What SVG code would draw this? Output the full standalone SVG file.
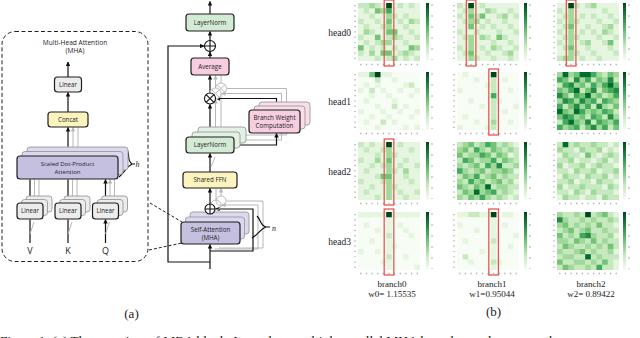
<svg xmlns="http://www.w3.org/2000/svg" width="640" height="338" viewBox="0 0 640 338">
<style>
.bx{stroke:#1e1e1e;stroke-width:1.2}
.sh{stroke:#9a9a9a;stroke-width:.9}
.ln{fill:none;stroke:#111;stroke-width:1.2}
.gl{fill:none;stroke:#b8b8b8;stroke-width:1}
.t{font-family:"Open Sans","Liberation Sans",sans-serif;font-size:6.2px;text-anchor:middle;fill:#222}
.s{font-family:"Liberation Serif",serif;fill:#222}
.gr{fill:#ececec}.yl{fill:#fbf4bf}.pu{fill:#c5bfe0}.pu2{fill:#dcd8ef}.gn{fill:#d3ead5}.gn2{fill:#e3f1e4}.pk{fill:#f7cde0}.pk2{fill:#f9dde9}
.l1{fill:#f7fcf5}.l2{fill:#e5f5e0}.l3{fill:#c7e9c0}.l4{fill:#a1d99b}.l5{fill:#74c476}.l6{fill:#41ab5d}.l7{fill:#238b45}.l8{fill:#006d2c}.l9{fill:#00441b}
.cb{fill:url(#cbg)}
.tv{stroke:#a8a8a8;stroke-width:1.3;stroke-dasharray:1.2 4.07}
.th{stroke:#a8a8a8;stroke-width:1.3;stroke-dasharray:1.2 4.44}
.tc{stroke:#b8b8b8;stroke-width:1.2;stroke-dasharray:2 9}
.hl{fill:none;stroke:#e9574e;stroke-width:1.3}
</style>
<defs>
<marker id="a" viewBox="0 0 10 10" refX="9" refY="5" markerWidth="4.5" markerHeight="4.5" markerUnits="userSpaceOnUse" orient="auto"><path d="M0 0L10 5L0 10z" fill="#111"/></marker>
<marker id="ag" viewBox="0 0 10 10" refX="9" refY="5" markerWidth="4.5" markerHeight="4.5" markerUnits="userSpaceOnUse" orient="auto"><path d="M0 0L10 5L0 10z" fill="#b8b8b8"/></marker>
<linearGradient id="cbg" x1="0" y1="0" x2="0" y2="1"><stop offset="0" stop-color="#00441b"/><stop offset=".25" stop-color="#238b45"/><stop offset=".5" stop-color="#74c476"/><stop offset=".75" stop-color="#c7e9c0"/><stop offset="1" stop-color="#f7fcf5"/></linearGradient>
</defs>
<rect width="640" height="338" fill="#fff"/>

<!-- Left panel: MHA -->
<g id="mha-panel">
<rect x="2" y="31.5" width="146" height="230" rx="13" fill="none" stroke="#222" stroke-width="1" stroke-dasharray="4 2.5"/>
<text class="t" x="75" y="44.5" style="font-size:6.6px">Multi-Head Attention</text>
<text class="t" x="75" y="53" style="font-size:6.6px">(MHA)</text>
</g>
<g id="connectors">
<!-- left panel -->
<path class="gl" d="M78 147V127.5M73 151.5V127.5" marker-end="url(#ag)"/>
<path class="ln" d="M68 77V62" marker-end="url(#a)"/>
<path class="ln" d="M68 112V92.5" marker-end="url(#a)"/>
<path class="ln" d="M68 156V127.5" marker-end="url(#a)"/>
<path class="gl" d="M39 196V179.5M34.5 199.5V179.5M77 196V179.5M72.5 199.5V179.5M114.5 196V179.5M110 199.5V179.5" marker-end="url(#ag)"/>
<path class="ln" d="M30 203V179.5M68 203V179.5M105.5 203V179.5" marker-end="url(#a)"/>
<path class="ln" d="M30 243V219.5M68 243V219.5M105.5 243V219.5" marker-end="url(#a)"/>
<path class="gl" d="M30 234L34 222M68 234L72 222M105.5 234L109.5 222"/>
<path d="M150 203L182 222M149 250L182 243" fill="none" stroke="#222" stroke-width="1" stroke-dasharray="3 2"/>
<path class="ln" d="M126 148C131 154 126 160 132 164C126 167 125 172 119 177M132 164H135"/>
<!-- middle -->
<path class="ln" d="M210 262H168V46H204" marker-end="url(#a)"/>
<path class="ln" d="M210 269V244.5" marker-end="url(#a)"/>
<path class="gl" d="M219 248H263V201H226.5M214.5 249H258V205H221.5" marker-end="url(#ag)"/>
<path class="ln" d="M210 251H253V209H215.5" marker-end="url(#a)"/>
<path class="ln" d="M257 216C261 220 260 225 266 227C260 229 259 234 252 238M266 227H270"/>
<path class="ln" d="M210 222V214.5" marker-end="url(#a)"/>
<path class="gl" d="M216 200V188.5M221 196V188.5" marker-end="url(#ag)"/>
<path class="ln" d="M210 204V188.5" marker-end="url(#a)"/>
<path class="ln" d="M210 172V153.5" marker-end="url(#a)"/>
<path class="gl" d="M211 167L215 157"/>
<path class="gl" d="M246 135H286.5V125.5M240 140H281.5V129.5" marker-end="url(#ag)"/>
<path class="ln" d="M234 145H276.5V133.5" marker-end="url(#a)"/>
<path class="gl" d="M221 127V94.5M215.5 132V99.5" marker-end="url(#ag)"/>
<path class="ln" d="M210 137V104.5" marker-end="url(#a)"/>
<path class="gl" d="M286.5 102V88.5H227M281.5 106V93.5H221.5" marker-end="url(#ag)"/>
<path class="ln" d="M276.5 110V98.5H216" marker-end="url(#a)"/>
<path class="gl" d="M221 83V75.5M215.5 88V75.5" marker-end="url(#ag)"/>
<path class="ln" d="M210 92.5V75.5" marker-end="url(#a)"/>
<path class="ln" d="M210 58V52" marker-end="url(#a)"/>
<path class="ln" d="M210 40.5V31.5" marker-end="url(#a)"/>
<path class="ln" d="M210 14V1.5" marker-end="url(#a)"/>
</g>

<g id="mha-linear"><rect class="bx gr" x="54.5" y="77" width="27" height="15" rx="3"/><text class="t" x="68" y="86.8">Linear</text></g>
<g id="mha-concat"><rect class="bx yl" x="48" y="112" width="40" height="15" rx="3"/><text class="t" x="68" y="121.8">Concat</text></g>
<g id="mha-sdpa">
<rect class="sh pu2" x="27" y="147" width="101" height="23" rx="3"/>
<rect class="sh pu2" x="22" y="151.5" width="101" height="23" rx="3"/>
<rect class="bx pu" x="17" y="156" width="101" height="23" rx="3"/>
<text class="t" x="67.5" y="165.5" style="font-size:6px">Scaled Dot-Product</text>
<text class="t" x="67.5" y="173.5" style="font-size:6px">Attention</text>
<text class="s" x="135.5" y="166.5" style="font-size:8px;font-style:italic">h</text>
</g>
<g id="mha-lin-v"><rect class="sh gr" x="26" y="196" width="26" height="16" rx="3"/><rect class="sh gr" x="21.5" y="199.5" width="26" height="16" rx="3"/><rect class="bx gr" x="17" y="203" width="26" height="16" rx="3"/><text class="t" x="30" y="213">Linear</text></g>
<g id="mha-lin-k"><rect class="sh gr" x="64" y="196" width="26" height="16" rx="3"/><rect class="sh gr" x="59.5" y="199.5" width="26" height="16" rx="3"/><rect class="bx gr" x="55" y="203" width="26" height="16" rx="3"/><text class="t" x="68" y="213">Linear</text></g>
<g id="mha-lin-q"><rect class="sh gr" x="101.5" y="196" width="26" height="16" rx="3"/><rect class="sh gr" x="97" y="199.5" width="26" height="16" rx="3"/><rect class="bx gr" x="92.5" y="203" width="26" height="16" rx="3"/><text class="t" x="105.5" y="213">Linear</text></g>
<g id="inputs" class="t" style="font-size:9px">
<text class="t" x="30" y="254" style="font-size:9px">V</text>
<text class="t" x="68" y="254" style="font-size:9px">K</text>
<text class="t" x="105.5" y="254" style="font-size:9px">Q</text>
</g>

<!-- Middle: MBA block -->
<g id="self-attn">
<rect class="sh pu2" x="190" y="212" width="59" height="22" rx="3"/>
<rect class="sh pu2" x="185.5" y="217" width="59" height="22" rx="3"/>
<rect class="bx pu" x="181" y="222" width="59" height="22" rx="3"/>
<text class="t" x="210.5" y="231.5">Self-Attention</text>
<text class="t" x="210.5" y="240">(MHA)</text>
<text class="s" x="272" y="230.5" style="font-size:8px;font-style:italic">n</text>
</g>
<g id="add1">
<circle cx="221" cy="201" r="5" fill="none" stroke="#bbb"/>
<circle cx="216" cy="205" r="5" fill="none" stroke="#bbb"/>
<circle cx="210" cy="209" r="5" fill="#fff" stroke="#111" stroke-width="1.1"/>
<path d="M210 204V214M205 209H215" stroke="#111" stroke-width="1.1"/>
</g>
<g id="ffn"><rect class="bx yl" x="183" y="172" width="54" height="16" rx="3"/><text class="t" x="210" y="182.3">Shared FFN</text></g>
<g id="layernorm2">
<rect class="sh gn2" x="198" y="127" width="48" height="16" rx="3"/>
<rect class="sh gn2" x="192" y="132" width="48" height="16" rx="3"/>
<rect class="bx gn" x="186" y="137" width="48" height="16" rx="3"/>
<text class="t" x="210" y="147.3">LayerNorm</text>
</g>
<g id="branch-weight">
<rect class="sh pk2" x="259" y="102" width="51" height="23" rx="3"/>
<rect class="sh pk2" x="254" y="106" width="51" height="23" rx="3"/>
<rect class="bx pk" x="249" y="110" width="51" height="23" rx="3"/>
<text class="t" x="274.5" y="119.5">Branch Weight</text>
<text class="t" x="274.5" y="128">Computation</text>
</g>
<g id="mul">
<circle cx="221" cy="88.5" r="5.5" fill="none" stroke="#bbb"/>
<path d="M217.1 84.6L224.9 92.4M224.9 84.6L217.1 92.4" stroke="#bbb"/>
<circle cx="215.5" cy="93.5" r="5.5" fill="#fff" stroke="#bbb"/>
<path d="M211.6 89.6L219.4 97.4M219.4 89.6L211.6 97.4" stroke="#bbb"/>
<circle cx="210" cy="98.5" r="5.5" fill="#fff" stroke="#111" stroke-width="1.1"/>
<path d="M206.1 94.6L213.9 102.4M213.9 94.6L206.1 102.4" stroke="#111" stroke-width="1.1"/>
</g>
<g id="average"><rect class="bx pk" x="191" y="58" width="38" height="17" rx="3"/><text class="t" x="210" y="68.8">Average</text></g>
<g id="add2">
<circle cx="210" cy="46" r="5.5" fill="#fff" stroke="#111" stroke-width="1.1"/>
<path d="M210 40.5V51.5M204.5 46H215.5" stroke="#111" stroke-width="1.1"/>
</g>
<g id="layernorm1"><rect class="bx gn" x="186" y="14" width="48" height="17" rx="3"/><text class="t" x="210" y="24.8">LayerNorm</text></g>
<text class="s" x="131.5" y="318" text-anchor="middle" style="font-size:13px">(a)</text>

<!-- Right: heatmaps -->
<g id="labels" class="s" style="font-size:9.5px" text-anchor="end">
<text x="351" y="35.5">head0</text>
<text x="351" y="105">head1</text>
<text x="351" y="174.5">head2</text>
<text x="351" y="244.5">head3</text>
</g>
<g class="s" style="font-size:9px" text-anchor="middle">
<text x="392" y="287">branch0</text><text x="392" y="297">w0= 1.15535</text>
<text x="492" y="287">branch1</text><text x="492" y="297">w1=0.95044</text>
<text x="591" y="287">branch2</text><text x="591" y="297">w2= 0.89422</text>
</g>
<text class="s" x="493.5" y="315.5" text-anchor="middle" style="font-size:13px">(b)</text>

<g id="hm-h0-b0" transform="translate(358,3)">
<g transform="scale(5.636,5.273)"><rect class="l2" width="11" height="11"/>
<path class="l3" d="M0 0h1v1h-1M1 0h1v1h-1M3 0h1v1h-1M7 0h1v1h-1M9 0h1v1h-1M1 1h1v1h-1M2 2h1v1h-1M6 2h1v1h-1M8 2h1v1h-1M0 3h1v1h-1M3 3h1v1h-1M7 3h1v1h-1M10 3h1v1h-1M1 4h1v1h-1M4 4h1v1h-1M8 4h1v1h-1M2 5h1v1h-1M9 5h1v1h-1M0 6h1v1h-1M5 6h1v1h-1M7 6h1v1h-1M10 6h1v1h-1M1 7h1v1h-1M3 7h1v1h-1M8 7h1v1h-1M2 8h1v1h-1M4 8h1v1h-1M6 8h1v1h-1M0 9h1v1h-1M7 9h1v1h-1M9 9h1v1h-1M3 10h1v1h-1M5 10h1v1h-1M8 10h1v1h-1M10 10h1v1h-1"/>
<path class="l4" d="M2 0h1v1h-1M4 1h1v1h-1M5 2h1v1h-1M9 3h1v1h-1M5 4h1v1h-1M1 5h1v1h-1M6 6h1v1h-1M4 7h1v1h-1M5 7h1v1h-1M10 8h1v1h-1M8 9h1v1h-1M2 9h1v1h-1M6 10h1v1h-1"/>
<path class="l5" d="M3 1h1v1h-1M5 3h1v1h-1M6 5h1v1h-1M3 6h1v1h-1M5 5h1v1h-1M9 8h1v1h-1M4 9h1v1h-1M5 9h1v1h-1M0 8h1v1h-1"/>
<path class="l6" d="M5 1h1v1h-1"/>
<path class="l9" d="M5 0h1v1h-1"/>
</g>
<rect class="cb" x="68" width="3" height="58"/>
<path class="tv" d="M-3 2V58"/><path class="th" d="M2.2 61.5H62"/><path class="tc" d="M74 1V57"/>
<rect class="hl" x="26.2" y="-3" width="9.6" height="66"/>
</g>

<g id="hm-h0-b1" transform="translate(457,3)">
<g transform="scale(5.636,5.273)"><rect class="l2" width="11" height="11"/>
<path class="l3" d="M0 0h1v1h-1M1 1h1v1h-1M4 0h1v1h-1M6 1h1v1h-1M9 1h1v1h-1M0 2h1v1h-1M3 2h1v1h-1M7 2h1v1h-1M10 2h1v1h-1M1 3h1v1h-1M5 3h1v1h-1M8 3h1v1h-1M4 4h1v1h-1M6 4h1v1h-1M9 4h1v1h-1M0 5h1v1h-1M3 5h1v1h-1M7 5h1v1h-1M10 5h1v1h-1M1 6h1v1h-1M5 6h1v1h-1M8 6h1v1h-1M6 7h1v1h-1M9 7h1v1h-1M0 8h1v1h-1M4 8h1v1h-1M7 8h1v1h-1M10 8h1v1h-1M1 9h1v1h-1M5 9h1v1h-1M8 9h1v1h-1M3 10h1v1h-1M6 10h1v1h-1M9 10h1v1h-1"/>
<path class="l4" d="M2 1h1v1h-1M2 3h1v1h-1M2 6h1v1h-1M2 8h1v1h-1M2 10h1v1h-1M5 1h1v1h-1M8 2h1v1h-1M4 6h1v1h-1M6 8h1v1h-1M9 9h1v1h-1M3 3h1v1h-1M2 7h1v1h-1"/>
<path class="l5" d="M2 4h1v1h-1M2 9h1v1h-1M4 2h1v1h-1M7 6h1v1h-1M2 2h1v1h-1"/>
<path class="l9" d="M2 0h1v1h-1"/>
</g>
<rect class="cb" x="67" width="3" height="58"/>
<path class="tv" d="M-3 2V58"/><path class="th" d="M2.2 61.5H62"/><path class="tc" d="M73 1V57"/>
<rect class="hl" x="9.3" y="-3" width="9.6" height="66"/>
</g>

<g id="hm-h0-b2" transform="translate(557,3)">
<g transform="scale(5.636,5.273)"><rect class="l2" width="11" height="11"/>
<path class="l3" d="M0 1h1v1h-1M3 0h1v1h-1M5 0h1v1h-1M8 1h1v1h-1M1 2h1v1h-1M4 2h1v1h-1M6 2h1v1h-1M9 2h1v1h-1M0 3h1v1h-1M3 3h1v1h-1M7 3h1v1h-1M10 3h1v1h-1M1 4h1v1h-1M5 4h1v1h-1M8 4h1v1h-1M0 5h1v1h-1M4 5h1v1h-1M6 5h1v1h-1M9 5h1v1h-1M1 6h1v1h-1M3 6h1v1h-1M7 6h1v1h-1M10 6h1v1h-1M0 7h1v1h-1M4 7h1v1h-1M8 7h1v1h-1M1 8h1v1h-1M5 8h1v1h-1M9 8h1v1h-1M3 9h1v1h-1M6 9h1v1h-1M10 9h1v1h-1M0 10h1v1h-1M4 10h1v1h-1M7 10h1v1h-1"/>
<path class="l4" d="M2 1h1v1h-1M2 2h1v1h-1M2 5h1v1h-1M2 6h1v1h-1M2 9h1v1h-1M2 10h1v1h-1M6 0h1v1h-1M9 4h1v1h-1M8 5h1v1h-1M5 7h1v1h-1M1 10h1v1h-1M2 3h1v1h-1M2 7h1v1h-1"/>
<path class="l5" d="M2 4h1v1h-1M2 8h1v1h-1M9 7h1v1h-1"/>
<path class="l9" d="M2 0h1v1h-1"/>
</g>
<rect class="cb" x="66" width="3" height="58"/>
<path class="tv" d="M-3 2V58"/><path class="th" d="M2.2 61.5H62"/><path class="tc" d="M72 1V57"/>
<rect class="hl" x="9.3" y="-3" width="9.6" height="66"/>
</g>

<g id="hm-h1-b0" transform="translate(358,72)">
<g transform="scale(5.636,5.273)"><rect class="l1" width="11" height="11"/>
<path class="l2" d="M0 0h1v1h-1M1 0h1v1h-1M4 0h1v1h-1M5 0h1v1h-1M1 2h1v1h-1M3 2h1v1h-1M6 1h1v1h-1M8 2h1v1h-1M0 3h1v1h-1M4 3h1v1h-1M7 3h1v1h-1M10 3h1v1h-1M2 4h1v1h-1M5 4h1v1h-1M9 4h1v1h-1M1 5h1v1h-1M6 5h1v1h-1M3 6h1v1h-1M8 6h1v1h-1M0 7h1v1h-1M4 7h1v1h-1M7 7h1v1h-1M10 7h1v1h-1M2 8h1v1h-1M5 8h1v1h-1M9 8h1v1h-1M1 9h1v1h-1M6 9h1v1h-1M3 10h1v1h-1M8 10h1v1h-1M10 10h1v1h-1"/>
<path class="l3" d="M3 1h1v1h-1M2 3h1v1h-1M6 6h1v1h-1M4 9h1v1h-1M9 2h1v1h-1"/>
<path class="l5" d="M2 0h1v1h-1"/>
<path class="l9" d="M3 0h1v1h-1"/>
</g>
<rect class="cb" x="68" width="3" height="58"/>
<path class="tv" d="M-3 2V58"/><path class="th" d="M2.2 61.5H62"/><path class="tc" d="M74 1V57"/>
</g>

<g id="hm-h1-b1" transform="translate(457,72)">
<g transform="scale(5.636,5.273)"><rect class="l1" width="11" height="11"/>
<path class="l2" d="M1 0h1v1h-1M3 1h1v1h-1M8 1h1v1h-1M0 3h1v1h-1M5 2h1v1h-1M9 3h1v1h-1M2 5h1v1h-1M7 5h1v1h-1M4 6h1v1h-1M10 6h1v1h-1M1 8h1v1h-1M8 7h1v1h-1M3 9h1v1h-1M9 9h1v1h-1M5 10h1v1h-1M0 10h1v1h-1"/>
<path class="l3" d="M6 1h1v1h-1M6 2h1v1h-1M6 3h1v1h-1M6 6h1v1h-1M6 7h1v1h-1M6 8h1v1h-1M6 10h1v1h-1M6 5h1v1h-1"/>
<path class="l4" d="M6 9h1v1h-1"/>
<path class="l6" d="M6 4h1v1h-1"/>
<path class="l9" d="M6 0h1v1h-1"/>
</g>
<rect class="cb" x="67" width="3" height="58"/>
<path class="tv" d="M-3 2V58"/><path class="th" d="M2.2 61.5H62"/><path class="tc" d="M73 1V57"/>
<rect class="hl" x="31.8" y="-3" width="9.6" height="66"/>
</g>

<g id="hm-h1-b2" transform="translate(557,72)">
<g transform="scale(5.636,5.273)"><rect class="l4" width="11" height="11"/>
<path class="l3" d="M8 0h1v1h-1M2 1h1v1h-1M6 1h1v1h-1M10 1h1v1h-1M0 2h1v1h-1M5 2h1v1h-1M4 3h1v1h-1M7 3h1v1h-1M2 4h1v1h-1M8 4h1v1h-1M7 5h1v1h-1M1 6h1v1h-1M6 6h1v1h-1M9 6h1v1h-1M10 7h1v1h-1M5 8h1v1h-1M8 8h1v1h-1M0 9h1v1h-1M6 9h1v1h-1M4 10h1v1h-1M9 10h1v1h-1"/>
<path class="l5" d="M3 0h1v1h-1M9 0h1v1h-1M1 1h1v1h-1M7 1h1v1h-1M4 2h1v1h-1M10 2h1v1h-1M0 3h1v1h-1M5 3h1v1h-1M8 3h1v1h-1M1 4h1v1h-1M4 4h1v1h-1M7 4h1v1h-1M5 5h1v1h-1M9 5h1v1h-1M2 6h1v1h-1M10 6h1v1h-1M1 7h1v1h-1M6 7h1v1h-1M9 7h1v1h-1M0 8h1v1h-1M4 8h1v1h-1M7 8h1v1h-1M3 9h1v1h-1M8 9h1v1h-1M2 10h1v1h-1M5 10h1v1h-1M10 10h1v1h-1"/>
<path class="l6" d="M6 0h1v1h-1M0 1h1v1h-1M5 1h1v1h-1M1 2h1v1h-1M6 2h1v1h-1M8 2h1v1h-1M2 3h1v1h-1M9 3h1v1h-1M3 4h1v1h-1M10 4h1v1h-1M2 5h1v1h-1M6 5h1v1h-1M8 5h1v1h-1M0 6h1v1h-1M5 6h1v1h-1M4 7h1v1h-1M8 7h1v1h-1M2 8h1v1h-1M6 8h1v1h-1M1 9h1v1h-1M7 9h1v1h-1M10 9h1v1h-1M0 10h1v1h-1M3 10h1v1h-1M8 10h1v1h-1"/>
<path class="l7" d="M3 1h1v1h-1M9 1h1v1h-1M2 2h1v1h-1M6 3h1v1h-1M10 3h1v1h-1M0 4h1v1h-1M1 5h1v1h-1M4 5h1v1h-1M3 6h1v1h-1M7 6h1v1h-1M1 8h1v1h-1M9 8h1v1h-1M5 9h1v1h-1M6 10h1v1h-1"/>
<path class="l8" d="M1 0h1v1h-1M4 0h1v1h-1M5 0h1v1h-1M9 2h1v1h-1M3 3h1v1h-1M5 4h1v1h-1M0 7h1v1h-1M3 7h1v1h-1M2 9h1v1h-1"/>
</g>
<rect class="cb" x="66" width="3" height="58"/>
<path class="tv" d="M-3 2V58"/><path class="th" d="M2.2 61.5H62"/><path class="tc" d="M72 1V57"/>
</g>

<g id="hm-h2-b0" transform="translate(358,142)">
<g transform="scale(5.636,5.273)"><rect class="l2" width="11" height="11"/>
<path class="l3" d="M0 0h1v1h-1M2 0h1v1h-1M7 0h1v1h-1M1 1h1v1h-1M4 1h1v1h-1M9 1h1v1h-1M3 2h1v1h-1M6 2h1v1h-1M0 3h1v1h-1M8 3h1v1h-1M2 4h1v1h-1M4 4h1v1h-1M7 4h1v1h-1M10 4h1v1h-1M1 5h1v1h-1M6 5h1v1h-1M3 6h1v1h-1M8 6h1v1h-1M0 7h1v1h-1M4 7h1v1h-1M9 7h1v1h-1M2 8h1v1h-1M6 8h1v1h-1M1 9h1v1h-1M7 9h1v1h-1M10 9h1v1h-1M3 10h1v1h-1M8 10h1v1h-1"/>
<path class="l4" d="M5 1h1v1h-1M5 2h1v1h-1M5 4h1v1h-1M5 5h1v1h-1M5 7h1v1h-1M5 9h1v1h-1M5 10h1v1h-1M3 3h1v1h-1M8 5h1v1h-1M5 8h1v1h-1"/>
<path class="l5" d="M5 3h1v1h-1M5 6h1v1h-1M4 6h1v1h-1"/>
<path class="l9" d="M5 0h1v1h-1"/>
</g>
<rect class="cb" x="68" width="3" height="58"/>
<path class="tv" d="M-3 2V58"/><path class="th" d="M2.2 61.5H62"/><path class="tc" d="M74 1V57"/>
<rect class="hl" x="26.2" y="-3" width="9.6" height="66"/>
</g>

<g id="hm-h2-b1" transform="translate(457,142)">
<g transform="scale(5.636,5.273)"><rect class="l3" width="11" height="11"/>
<path class="l2" d="M10 0h1v1h-1M9 2h1v1h-1M10 5h1v1h-1M10 7h1v1h-1M10 9h1v1h-1M9 10h1v1h-1"/>
<path class="l4" d="M1 0h1v1h-1M4 0h1v1h-1M8 0h1v1h-1M0 1h1v1h-1M4 1h1v1h-1M7 1h1v1h-1M9 1h1v1h-1M2 2h1v1h-1M3 2h1v1h-1M8 2h1v1h-1M4 3h1v1h-1M5 3h1v1h-1M9 3h1v1h-1M0 4h1v1h-1M2 4h1v1h-1M6 4h1v1h-1M10 4h1v1h-1M1 5h1v1h-1M3 5h1v1h-1M6 5h1v1h-1M7 5h1v1h-1M9 5h1v1h-1M2 6h1v1h-1M5 6h1v1h-1M8 6h1v1h-1M0 7h1v1h-1M3 7h1v1h-1M6 7h1v1h-1M9 7h1v1h-1M1 8h1v1h-1M4 8h1v1h-1M7 8h1v1h-1M8 8h1v1h-1M2 9h1v1h-1M4 9h1v1h-1M8 9h1v1h-1M0 10h1v1h-1M3 10h1v1h-1M5 10h1v1h-1M7 10h1v1h-1"/>
<path class="l5" d="M2 0h1v1h-1M6 0h1v1h-1M1 1h1v1h-1M6 1h1v1h-1M0 2h1v1h-1M5 2h1v1h-1M7 2h1v1h-1M2 3h1v1h-1M8 3h1v1h-1M3 4h1v1h-1M4 5h1v1h-1M8 5h1v1h-1M1 6h1v1h-1M6 6h1v1h-1M4 7h1v1h-1M7 7h1v1h-1M0 8h1v1h-1M3 8h1v1h-1M1 9h1v1h-1M5 9h1v1h-1M2 10h1v1h-1"/>
<path class="l6" d="M5 0h1v1h-1M3 1h1v1h-1M4 2h1v1h-1M1 3h1v1h-1M6 3h1v1h-1M5 4h1v1h-1M0 5h1v1h-1M3 6h1v1h-1M2 7h1v1h-1M6 9h1v1h-1M4 10h1v1h-1"/>
<path class="l7" d="M7 4h1v1h-1"/>
<path class="l8" d="M5 8h1v1h-1M3 9h1v1h-1"/>
</g>
<rect class="cb" x="67" width="3" height="58"/>
<path class="tv" d="M-3 2V58"/><path class="th" d="M2.2 61.5H62"/><path class="tc" d="M73 1V57"/>
</g>

<g id="hm-h2-b2" transform="translate(557,142)">
<g transform="scale(5.636,5.273)"><rect class="l3" width="11" height="11"/>
<path class="l2" d="M9 0h1v1h-1M3 1h1v1h-1M8 1h1v1h-1M10 1h1v1h-1M0 2h1v1h-1M4 2h1v1h-1M7 2h1v1h-1M3 3h1v1h-1M6 3h1v1h-1M9 3h1v1h-1M1 4h1v1h-1M5 4h1v1h-1M10 4h1v1h-1M2 5h1v1h-1M7 5h1v1h-1M0 6h1v1h-1M4 6h1v1h-1M9 6h1v1h-1M3 7h1v1h-1M6 7h1v1h-1M10 7h1v1h-1M1 8h1v1h-1M8 8h1v1h-1M2 9h1v1h-1M5 9h1v1h-1M10 9h1v1h-1M0 10h1v1h-1M4 10h1v1h-1M7 10h1v1h-1"/>
<path class="l4" d="M3 0h1v1h-1M6 0h1v1h-1M0 1h1v1h-1M4 1h1v1h-1M7 1h1v1h-1M1 2h1v1h-1M9 2h1v1h-1M2 3h1v1h-1M8 3h1v1h-1M0 4h1v1h-1M4 4h1v1h-1M7 4h1v1h-1M3 5h1v1h-1M6 5h1v1h-1M10 5h1v1h-1M1 6h1v1h-1M5 6h1v1h-1M8 6h1v1h-1M2 7h1v1h-1M7 7h1v1h-1M0 8h1v1h-1M4 8h1v1h-1M9 8h1v1h-1M3 9h1v1h-1M6 9h1v1h-1M1 10h1v1h-1M8 10h1v1h-1"/>
<path class="l5" d="M5 2h1v1h-1"/>
<path class="l8" d="M1 0h1v1h-1"/>
</g>
<rect class="cb" x="66" width="3" height="58"/>
<path class="tv" d="M-3 2V58"/><path class="th" d="M2.2 61.5H62"/><path class="tc" d="M72 1V57"/>
</g>

<g id="hm-h3-b0" transform="translate(358,212)">
<g transform="scale(5.636,5.273)"><rect class="l1" width="11" height="11"/>
<path class="l2" d="M0 0h5v1h-5M6 0h5v1h-5M1 2h1v1h-1M3 3h1v1h-1M7 2h1v1h-1M9 4h1v1h-1M2 5h1v1h-1M6 6h1v1h-1M0 7h1v1h-1M8 8h1v1h-1M4 9h1v1h-1M10 10h1v1h-1M5 1h1v3h-1M5 5h1v3h-1M5 9h1v2h-1M3 7h1v1h-1M8 3h1v1h-1"/>
<path class="l3" d="M5 4h1v1h-1M5 8h1v1h-1"/>
<path class="l9" d="M5 0h1v1h-1"/>
</g>
<rect class="cb" x="68" width="3" height="58"/>
<path class="tv" d="M-3 2V58"/><path class="th" d="M2.2 61.5H62"/><path class="tc" d="M74 1V57"/>
<rect class="hl" x="26.2" y="-3" width="9.6" height="66"/>
</g>

<g id="hm-h3-b1" transform="translate(457,212)">
<g transform="scale(5.636,5.273)"><rect class="l1" width="11" height="11"/>
<path class="l2" d="M0 0h2v1h-2M4 0h2v1h-2M8 0h2v1h-2M0 2h1v1h-1M3 3h1v1h-1M8 2h1v1h-1M1 5h1v1h-1M9 6h1v1h-1M4 7h1v1h-1M7 9h1v1h-1M2 9h1v1h-1M10 4h1v1h-1M6 1h1v4h-1M6 6h1v3h-1M6 10h1v1h-1"/>
<path class="l3" d="M2 0h2v1h-2M6 5h1v1h-1M6 9h1v1h-1M1 8h1v1h-1"/>
<path class="l9" d="M6 0h1v1h-1"/>
</g>
<rect class="cb" x="67" width="3" height="58"/>
<path class="tv" d="M-3 2V58"/><path class="th" d="M2.2 61.5H62"/><path class="tc" d="M73 1V57"/>
<rect class="hl" x="31.8" y="-3" width="9.6" height="66"/>
</g>

<g id="hm-h3-b2" transform="translate(557,212)">
<g transform="scale(5.636,5.273)"><rect class="l3" width="11" height="11"/>
<path class="l2" d="M10 0h1v1h-1M10 2h1v1h-1M10 4h1v1h-1M10 7h1v1h-1M10 9h1v2h-1"/>
<path class="l4" d="M0 0h1v1h-1M3 0h1v1h-1M7 0h1v1h-1M1 1h1v1h-1M4 1h1v1h-1M6 1h1v1h-1M9 1h1v1h-1M0 2h1v1h-1M3 2h1v1h-1M5 2h1v1h-1M1 3h1v1h-1M4 3h1v1h-1M8 3h1v1h-1M2 4h1v1h-1M6 4h1v1h-1M9 4h1v1h-1M0 5h2v1h-2M4 5h1v1h-1M8 5h1v1h-1M2 6h1v1h-1M5 6h1v1h-1M7 6h1v1h-1M0 7h1v1h-1M3 7h1v1h-1M6 7h1v1h-1M9 7h1v1h-1M1 8h2v1h-2M7 8h1v1h-1M3 9h2v1h-2M6 9h1v1h-1M2 10h1v1h-1M5 10h1v1h-1"/>
<path class="l5" d="M8 0h1v1h-1M1 2h1v1h-1M7 2h1v1h-1M2 3h1v1h-1M5 3h1v1h-1M0 4h1v1h-1M3 5h1v1h-1M6 5h1v1h-1M1 6h1v1h-1M9 6h1v1h-1M4 7h1v1h-1M0 9h1v1h-1M8 9h1v1h-1M1 10h1v1h-1"/>
<path class="l6" d="M4 4h1v1h-1M7 10h1v1h-1"/>
<path class="l7" d="M0 1h1v1h-1M5 4h1v1h-1"/>
<path class="l8" d="M5 8h1v1h-1"/>
<path class="l9" d="M5 0h1v1h-1"/>
</g>
<rect class="cb" x="66" width="3" height="58"/>
<path class="tv" d="M-3 2V58"/><path class="th" d="M2.2 61.5H62"/><path class="tc" d="M72 1V57"/>
</g>

<text class="s" x="0" y="344.5" style="font-size:13.5px">Figure 1: (a) The overview of MBA block. It employs multiple parallel MHA branches and averages the</text>
</svg>
